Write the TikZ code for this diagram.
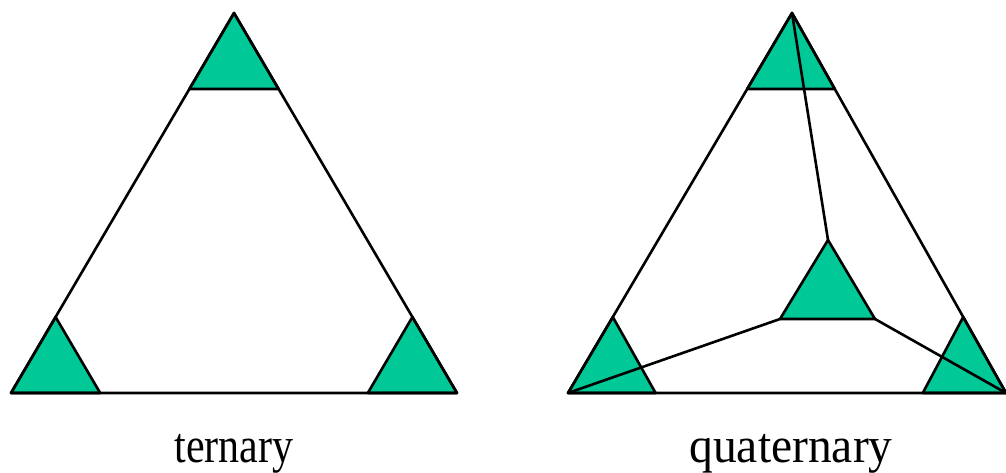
\documentclass[tikz,border=0pt]{standalone}
\usepackage{fontspec}
\setmainfont{Liberation Serif}
\usetikzlibrary{calc}
\definecolor{tgreen}{RGB}{0,200,150}
\tikzset{
  edge/.style={line width=2.6pt, line join=round, line cap=round},
  corner/.style={fill=tgreen, draw=black, line width=2.6pt, line join=round},
  lbl/.style={font=\fontsize{50}{50}\selectfont, anchor=base, inner sep=0pt}
}
\begin{document}
\begin{tikzpicture}[x=1pt,y=-1pt]
\useasboundingbox (0,0) rectangle (1006,473);
% ternary
\coordinate (A) at (234,13);
\coordinate (B) at (11,393);
\coordinate (C) at (457,393);
\draw[corner] (A) -- ($(A)!0.2!(B)$) -- ($(A)!0.2!(C)$) -- cycle;
\draw[corner] (B) -- ($(B)!0.2!(A)$) -- ($(B)!0.2!(C)$) -- cycle;
\draw[corner] (C) -- ($(C)!0.2!(A)$) -- ($(C)!0.2!(B)$) -- cycle;
\draw[edge] (A) -- (B) -- (C) -- cycle;
\node[lbl, xscale=0.84] (t1) at (234,462) {ternary};
% quaternary
\coordinate (P) at (792,13);
\coordinate (Q) at (568,393);
\coordinate (R) at (1006,393);
\coordinate (S) at (828,240);
\coordinate (SL) at (780,319);
\coordinate (SR) at (875,319);
\draw[corner] (P) -- ($(P)!0.2!(Q)$) -- ($(P)!0.2!(R)$) -- cycle;
\draw[corner] (Q) -- ($(Q)!0.2!(P)$) -- ($(Q)!0.2!(R)$) -- cycle;
\draw[corner] (R) -- ($(R)!0.2!(P)$) -- ($(R)!0.19!(Q)$) -- cycle;
\draw[corner] (S) -- (SL) -- (SR) -- cycle;
\draw[edge] (P) -- (Q) -- (R) -- cycle;
\draw[edge] (P) -- (S);
\draw[edge] (Q) -- (SL);
\draw[edge] (R) -- (SR);
\node[lbl, xscale=0.95] (t2) at (791,462) {quaternary};
\end{tikzpicture}
\end{document}
